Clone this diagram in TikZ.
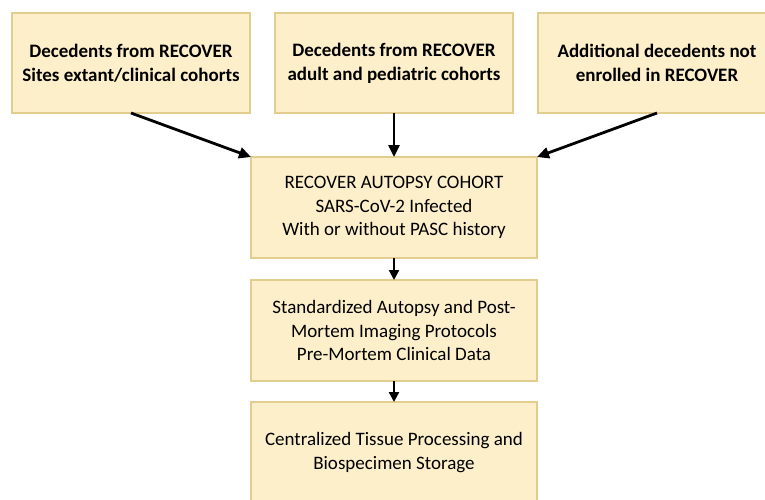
\documentclass[tikz,border=0pt]{standalone}
\usepackage{fontspec}
\setmainfont{Carlito}
\usepackage{xcolor}
\usetikzlibrary{arrows.meta,positioning}

\definecolor{boxfill}{HTML}{FDEFC9}
\definecolor{boxline}{HTML}{E3CD8E}

\begin{document}
\begin{tikzpicture}[
    x=1pt, y=1pt,
    node distance=25pt,
    every node/.style={draw=boxline, fill=boxfill, line width=1.2pt, outer sep=0pt,
        align=center, font=\fontsize{19}{23.5}\selectfont},
    source/.style={minimum width=238pt, minimum height=100pt, font=\fontsize{19}{24}\selectfont\bfseries},
    stage/.style={minimum width=286pt, minimum height=101pt},
    flow/.style={-{Triangle[length=12pt,width=11pt]}, line width=2.8pt},
    flowsmall/.style={-{Triangle[length=10pt,width=10pt]}, line width=2.2pt}
]
\useasboundingbox (0,0) rectangle (765,-499);
\clip (0,0) rectangle (765,-499);

\node[stage] (cohort) at (394,-207.5) {RECOVER AUTOPSY COHORT\\SARS-CoV-2 Infected\\With or without PASC history};
\node[source, above=44pt of cohort] (adult) {Decedents from RECOVER\\adult and pediatric cohorts};
\node[source, left=of adult] (sites) {Decedents from RECOVER\\Sites extant/clinical cohorts};
\node[source, right=of adult] (extra) {Additional decedents not\\enrolled in RECOVER};
\node[stage, below=22pt of cohort] (protocols) {Standardized Autopsy and Post-\\Mortem Imaging Protocols\\Pre-Mortem Clinical Data};
\node[stage, below=21pt of protocols] (storage) {Centralized Tissue Processing and\\Biospecimen Storage};

% sources feed the cohort
\draw[flow] (sites.south) -- (cohort.north west);
\draw[flow] (adult) -- (cohort);
\draw[flow] (extra.south) -- (cohort.north east);
\draw[flowsmall] (cohort) -- (protocols);
\draw[flowsmall] (protocols) -- (storage);

\end{tikzpicture}
\end{document}
